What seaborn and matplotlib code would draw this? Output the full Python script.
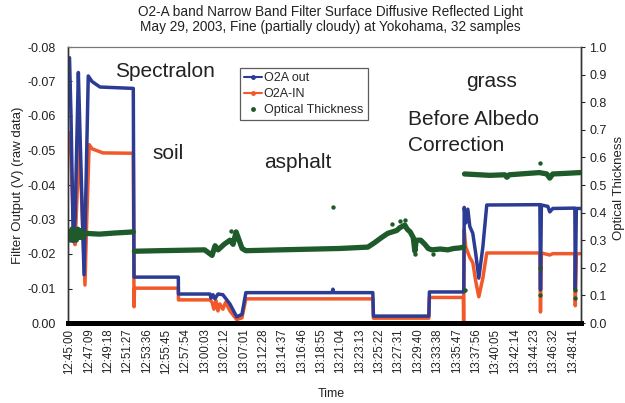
import matplotlib
matplotlib.use("Agg")
import matplotlib.pyplot as plt
from matplotlib.lines import Line2D
from matplotlib.ticker import FormatStrFormatter
import numpy as np
import pandas as pd
import seaborn as sns

# ---------------- data (x = sample number, 129 samples per tick label) ----------------
time_labels = ["12:45:00", "12:47:09", "12:49:18", "12:51:27", "12:53:36", "12:55:45",
               "12:57:54", "13:00:03", "13:02:12", "13:07:01", "13:12:28", "13:14:37",
               "13:16:46", "13:18:55", "13:21:04", "13:23:13", "13:25:22", "13:27:31",
               "13:29:40", "13:33:38", "13:35:47", "13:37:56", "13:40:05", "13:42:14",
               "13:44:23", "13:46:32", "13:48:41"]
samples_per_label = 129

out_x = [0, 10, 25, 37, 59, 70, 97, 110, 125, 150, 203, 425, 430, 725, 726, 936, 943, 956,
         969, 989, 1022, 1069, 1114, 1149, 1175, 1750, 1755, 1760, 2021, 2025, 2394, 2398,
         2627, 2630, 2640, 2654, 2667, 2687, 2707, 2727, 2754, 2780, 3134, 3138, 3144, 3187,
         3200, 3220, 3367, 3370, 3377, 3403]
out_v = [-0.0769, -0.060, -0.0236, -0.030, -0.0726, -0.055, -0.014, -0.040, -0.0716, -0.0700,
         -0.0684, -0.0680, -0.0133, -0.0133, -0.0084, -0.0084, -0.0072, -0.0082, -0.0070,
         -0.0084, -0.0082, -0.0055, -0.0018, -0.0025, -0.0088, -0.0088, -0.0098, -0.0088,
         -0.0088, -0.0020, -0.0020, -0.0090, -0.0090, -0.0335, -0.029, -0.033, -0.028, -0.026,
         -0.020, -0.013, -0.022, -0.0342, -0.0343, -0.0096, -0.0342, -0.0338, -0.0322, -0.0332,
         -0.0333, -0.0096, -0.0332, -0.0332]

in_x = [0, 10, 25, 37, 65, 77, 103, 115, 131, 150, 223, 425, 430, 433, 725, 726, 936, 950,
        962, 976, 989, 1002, 1022, 1040, 1069, 1114, 1149, 1175, 2021, 2025, 2394, 2398, 2624,
        2626, 2630, 2640, 2667, 2687, 2707, 2727, 2754, 2780, 3134, 3138, 3144, 3200, 3220,
        3367, 3370, 3377, 3403]
in_v = [-0.0551, -0.048, -0.030, -0.0227, -0.0527, -0.040, -0.011, -0.030, -0.0517, -0.0505,
        -0.0493, -0.0492, -0.0047, -0.0101, -0.0101, -0.0067, -0.0067, -0.0060, -0.0040,
        -0.0065, -0.0035, -0.0055, -0.0040, -0.0060, -0.0035, -0.0010, -0.0015, -0.0070,
        -0.0070, -0.0014, -0.0014, -0.0074, -0.0074, -0.0002, -0.027, -0.022, -0.019, -0.0175,
        -0.012, -0.0076, -0.013, -0.0203, -0.0203, -0.0032, -0.0203, -0.0197, -0.0201,
        -0.0201, -0.0050, -0.0201, -0.0201]

# optical thickness: three measurement runs (Spectralon / soil+asphalt / grass)
ot_run = [0] * 14 + [1] * 37 + [2] * 11
ot_x = [0, 8, 16, 25, 35, 45, 55, 65, 75, 85, 100, 200, 300, 425,
        432, 600, 900, 950, 970, 990, 1030, 1069, 1090, 1110, 1130, 1150, 1175, 1400, 1800,
        1988, 2030, 2080, 2121, 2150, 2180, 2200, 2234, 2250, 2270, 2290, 2301, 2310, 2340,
        2368, 2390, 2414, 2470, 2520, 2560, 2600, 2627,
        2632, 2800, 2900, 2914, 2930, 3130, 3180, 3200, 3220, 3300, 3403]
ot_v = [0.32, 0.30, 0.34, 0.31, 0.33, 0.30, 0.34, 0.31, 0.335, 0.31, 0.325, 0.322, 0.326, 0.33,
        0.26, 0.262, 0.265, 0.245, 0.28, 0.265, 0.285, 0.30, 0.285, 0.33, 0.30, 0.27, 0.262,
        0.265, 0.27,
        0.275, 0.29, 0.31, 0.325, 0.33, 0.335, 0.345, 0.355, 0.34, 0.33, 0.31, 0.26, 0.30, 0.30,
        0.285, 0.27, 0.265, 0.268, 0.265, 0.27, 0.272, 0.275,
        0.54, 0.535, 0.537, 0.528, 0.537, 0.545, 0.54, 0.525, 0.54, 0.542, 0.545]

ot_dots_x = [1074, 1755, 3138, 3138, 3138, 3367, 3367, 2633, 2150, 2200, 2234, 2301, 2420]
ot_dots_v = [0.335, 0.42, 0.58, 0.20, 0.10, 0.12, 0.09, 0.12, 0.36, 0.37, 0.375, 0.25, 0.25]

left_ticks = [0.0, -0.01, -0.02, -0.03, -0.04, -0.05, -0.06, -0.07, -0.08]
right_ticks = [0.0, 0.1, 0.2, 0.3, 0.4, 0.5, 0.6, 0.7, 0.8, 0.9, 1.0]

# ---------------- style ----------------
sns.set_style("ticks")
plt.rcParams["font.family"] = ["Liberation Sans", "DejaVu Sans"]
plt.rcParams["axes.unicode_minus"] = False

BLUE = "#2c3b94"
ORANGE = "#f2592a"
GREEN = "#1f5a2b"
TXT = "#222222"

W, H = 625, 403
fig = plt.figure(figsize=(W / 100, H / 100), dpi=100)
L, R, T, B = 68, 581, 47, 323
ax = fig.add_axes([L / W, (H - B) / H, (R - L) / W, (B - T) / H])
ax2 = ax.twinx()

df_out = pd.DataFrame({"x": out_x, "v": out_v})
df_in = pd.DataFrame({"x": in_x, "v": in_v})
df_ot = pd.DataFrame({"x": ot_x, "v": ot_v, "run": ot_run})
df_dots = pd.DataFrame({"x": ot_dots_x, "v": ot_dots_v})

sns.lineplot(data=df_out, x="x", y="v", ax=ax, color=BLUE, lw=2.5, estimator=None,
             sort=False, zorder=3)
sns.lineplot(data=df_in, x="x", y="v", ax=ax, color=ORANGE, lw=2.5, estimator=None,
             sort=False, zorder=2)
sns.lineplot(data=df_ot, x="x", y="v", units="run", ax=ax2, color=GREEN, lw=3.8,
             estimator=None, sort=False, zorder=2)
sns.scatterplot(data=df_dots, x="x", y="v", ax=ax2, color=GREEN, s=10, linewidth=0, zorder=3)

xmin, xmax = -10, 3408
ax.set_xlim(xmin, xmax)
ax.set_ylim(0, -0.08)
ax2.set_ylim(0, 1.0)

ax.set_xticks([i * samples_per_label for i in range(len(time_labels))])
ax.set_xticklabels(time_labels, rotation=90, fontsize=8.3, color=TXT)
ax.tick_params(axis="x", length=0, pad=4)
ax.set_yticks(left_ticks)
ax.yaxis.set_major_formatter(FormatStrFormatter("%.2f"))
ax.tick_params(axis="y", direction="in", length=3, labelsize=9, labelcolor=TXT, pad=9)
ax2.set_yticks(right_ticks)
ax2.yaxis.set_major_formatter(FormatStrFormatter("%.1f"))
ax2.tick_params(axis="y", direction="out", length=3, labelsize=9, labelcolor=TXT, pad=3)

ax.set_xlabel("")
ax.set_ylabel("")
ax2.set_xlabel("")
ax2.set_ylabel("")

for a in (ax, ax2):
    a.spines["left"].set_color("#333333")
    a.spines["right"].set_color("#333333")
    a.spines["top"].set_color("#777777")
    a.spines["top"].set_linestyle((0, (5, 1)))
    a.spines["bottom"].set_color("black")
    a.spines["bottom"].set_linewidth(3.6)
    a.spines["left"].set_linewidth(1.0)
    a.spines["right"].set_linewidth(1.0)
    a.spines["top"].set_linewidth(0.8)

# annotations (axes fraction)
def afx(px):
    return (px - L) / (R - L)

def afy(py):
    return (B - py) / (B - T)

ann = dict(transform=ax.transAxes, fontsize=15, color=TXT, va="baseline", ha="left")
ax.text(afx(115), afy(77), "Spectralon", **ann)
ax.text(afx(152), afy(159), "soil", **ann)
ax.text(afx(264), afy(168), "asphalt", **ann)
ax.text(afx(466), afy(87), "grass", **ann)
ax.text(afx(408), afy(125), "Before Albedo", **ann)
ax.text(afx(408), afy(151), "Correction", **ann)

# titles and axis labels
fig.text(330 / W, 1 - 12 / H, "O2-A band Narrow Band Filter Surface Diffusive Reflected Light",
         ha="center", va="center", fontsize=9.8, color=TXT)
fig.text(330 / W, 1 - 27 / H, "May 29, 2003, Fine (partially cloudy) at Yokohama, 32 samples",
         ha="center", va="center", fontsize=9.8, color=TXT)
fig.text(18 / W, 1 - 185 / H, "Filter Output (V) (raw data)", rotation=90,
         ha="center", va="center", fontsize=9.5, color=TXT)
fig.text(619 / W, 1 - 188 / H, "Optical Thickness", rotation=90,
         ha="center", va="center", fontsize=9.5, color=TXT)
fig.text(331 / W, 1 - 394 / H, "Time", ha="center", va="center", fontsize=9, color=TXT)

handles = [Line2D([0], [0], color=BLUE, lw=1.5, marker="o", ms=2.5),
           Line2D([0], [0], color=ORANGE, lw=1.5, marker="o", ms=2.5),
           Line2D([0], [0], color=GREEN, ls="", marker="o", ms=2.5)]
leg = ax2.legend(handles, ["O2A out", "O2A-IN", "Optical Thickness"],
                 loc="upper left", bbox_to_anchor=(240 / W, 1 - 68 / H),
                 bbox_transform=fig.transFigure, fontsize=9, frameon=True, fancybox=False,
                 handlelength=1.4, handletextpad=0.15, labelspacing=0.3, borderpad=0.35,
                 borderaxespad=0)
leg.get_frame().set_edgecolor("#333333")
leg.get_frame().set_linewidth(0.9)
leg.set_zorder(10)

fig.savefig("out.png", dpi=100)
